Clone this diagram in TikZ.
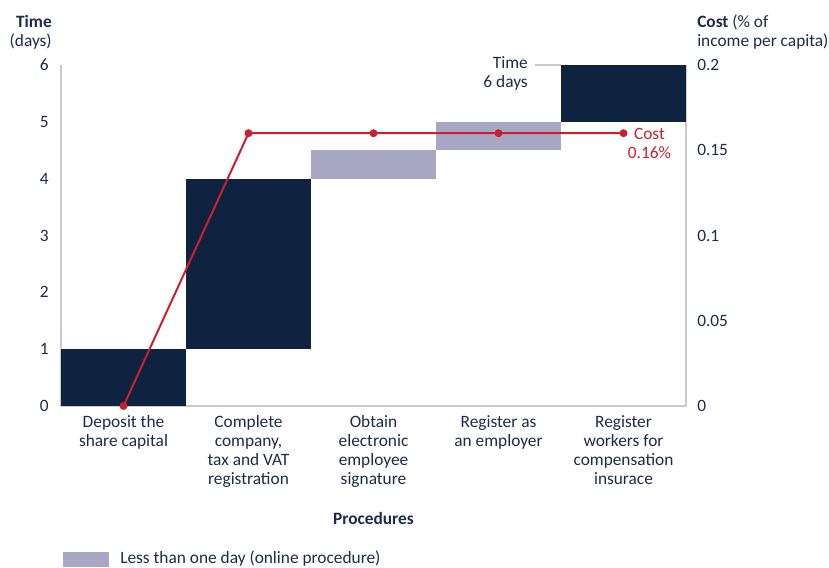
\documentclass[tikz,border=0pt]{standalone}
\usepackage{fontspec}
\setmainfont{Carlito}
\definecolor{navy}{HTML}{0F2240}
\definecolor{lilac}{HTML}{A9A8C4}
\definecolor{costred}{HTML}{C8202F}
\definecolor{inkblue}{HTML}{1A2B4C}
\definecolor{axisgrey}{HTML}{C9C9C9}
\tikzset{
	lbl/.style={text=inkblue, inner sep=0pt, font=\fontsize{13}{14.25}\selectfont},
	axisline/.style={draw=axisgrey, line width=1.1pt},
	costline/.style={draw=costred, line width=1.5pt},
}

\begin{document}
\begin{tikzpicture}[x=93.75pt, y=42.625pt]
		%%%%% START %%%%%
		\useasboundingbox (-0.488, -2.8505) rectangle (6.144, 7.1437);
		
		\draw[axisline] (0, 6) -- (0, 0) -- (5, 0) -- (5, 6);
		
		\fill[navy] (0, 0) rectangle (1, 1);
		\fill[navy] (1, 1) rectangle (2, 4);
		\fill[lilac] (2, 4) rectangle (3, 4.5);
		\fill[lilac] (3, 4.5) rectangle (4, 5);
		\fill[navy] (4, 5) rectangle (5, 6);
		
		% time axis
		\node[lbl, anchor=north east, align=right] (timehead) at (-0.072, 6.88) {\textbf{Time}\\(days)};
		\node[lbl, anchor=east] (t0) at (-0.096, 0) {0};
		\node[lbl, anchor=east] (t1) at (-0.096, 1) {1};
		\node[lbl, anchor=east] (t2) at (-0.096, 2) {2};
		\node[lbl, anchor=east] (t3) at (-0.096, 3) {3};
		\node[lbl, anchor=east] (t4) at (-0.096, 4) {4};
		\node[lbl, anchor=east] (t5) at (-0.096, 5) {5};
		\node[lbl, anchor=east] (t6) at (-0.096, 6) {6};
		
		% cost axis
		\node[lbl, anchor=north west, align=left] (costhead) at (5.088, 6.88) {\textbf{Cost} (\% of\\income per capita)};
		\node[lbl, anchor=west] (k0) at (5.088, 0) {0};
		\node[lbl, anchor=west] (k1) at (5.088, 1.5) {0.05};
		\node[lbl, anchor=west] (k2) at (5.088, 3) {0.1};
		\node[lbl, anchor=west] (k3) at (5.088, 4.5) {0.15};
		\node[lbl, anchor=west] (k4) at (5.088, 6) {0.2};
		
		% procedures
		\node[lbl, anchor=north, align=center] (p1) at (0.5, -0.158) {Deposit the\\share capital};
		\node[lbl, anchor=north, align=center] (p2) at (1.5, -0.158) {Complete\\company,\\tax and VAT\\registration};
		\node[lbl, anchor=north, align=center] (p3) at (2.5, -0.158) {Obtain\\electronic\\employee\\signature};
		\node[lbl, anchor=north, align=center] (p4) at (3.5, -0.158) {Register as\\an employer};
		\node[lbl, anchor=north, align=center] (p5) at (4.5, -0.158) {Register\\workers for\\compensation\\insurace};
		\node[lbl, font=\fontsize{13}{14.25}\selectfont\bfseries] (proc) at (2.5, -1.971) {Procedures};
		
		% time total
		\node[lbl, anchor=north east, align=right] (timetot) at (3.736, 6.146) {Time\\6 days};
		\coordinate (leadstart) at (3.79, 6);
		\coordinate (leadend) at (4, 6);
		\draw[axisgrey, line width=0.9pt] (leadstart) -- (leadend);
		
		% cost line
		\coordinate (c1) at (0.5, 0);
		\coordinate (c2) at (1.5, 4.8);
		\coordinate (c3) at (2.5, 4.8);
		\coordinate (c4) at (3.5, 4.8);
		\coordinate (c5) at (4.5, 4.8);
		\draw[costline] (c1) -- (c2) -- (c3) -- (c4) -- (c5);
		\fill[costred] (c1) circle (3pt);
		\fill[costred] (c2) circle (3pt);
		\fill[costred] (c3) circle (3pt);
		\fill[costred] (c4) circle (3pt);
		\fill[costred] (c5) circle (3pt);
		\node[lbl, text=costred, anchor=north, align=center] (costtot) at (4.708, 4.892) {Cost\\0.16\%};
		
		% legend
		\fill[lilac] (0.016, -2.569) rectangle (0.384, -2.833);
		\node[lbl, anchor=base west] (legtxt) at (0.472, -2.7625) {Less than one day (online procedure)};
		%%%%% END %%%%%
	\end{tikzpicture}
\end{document}
